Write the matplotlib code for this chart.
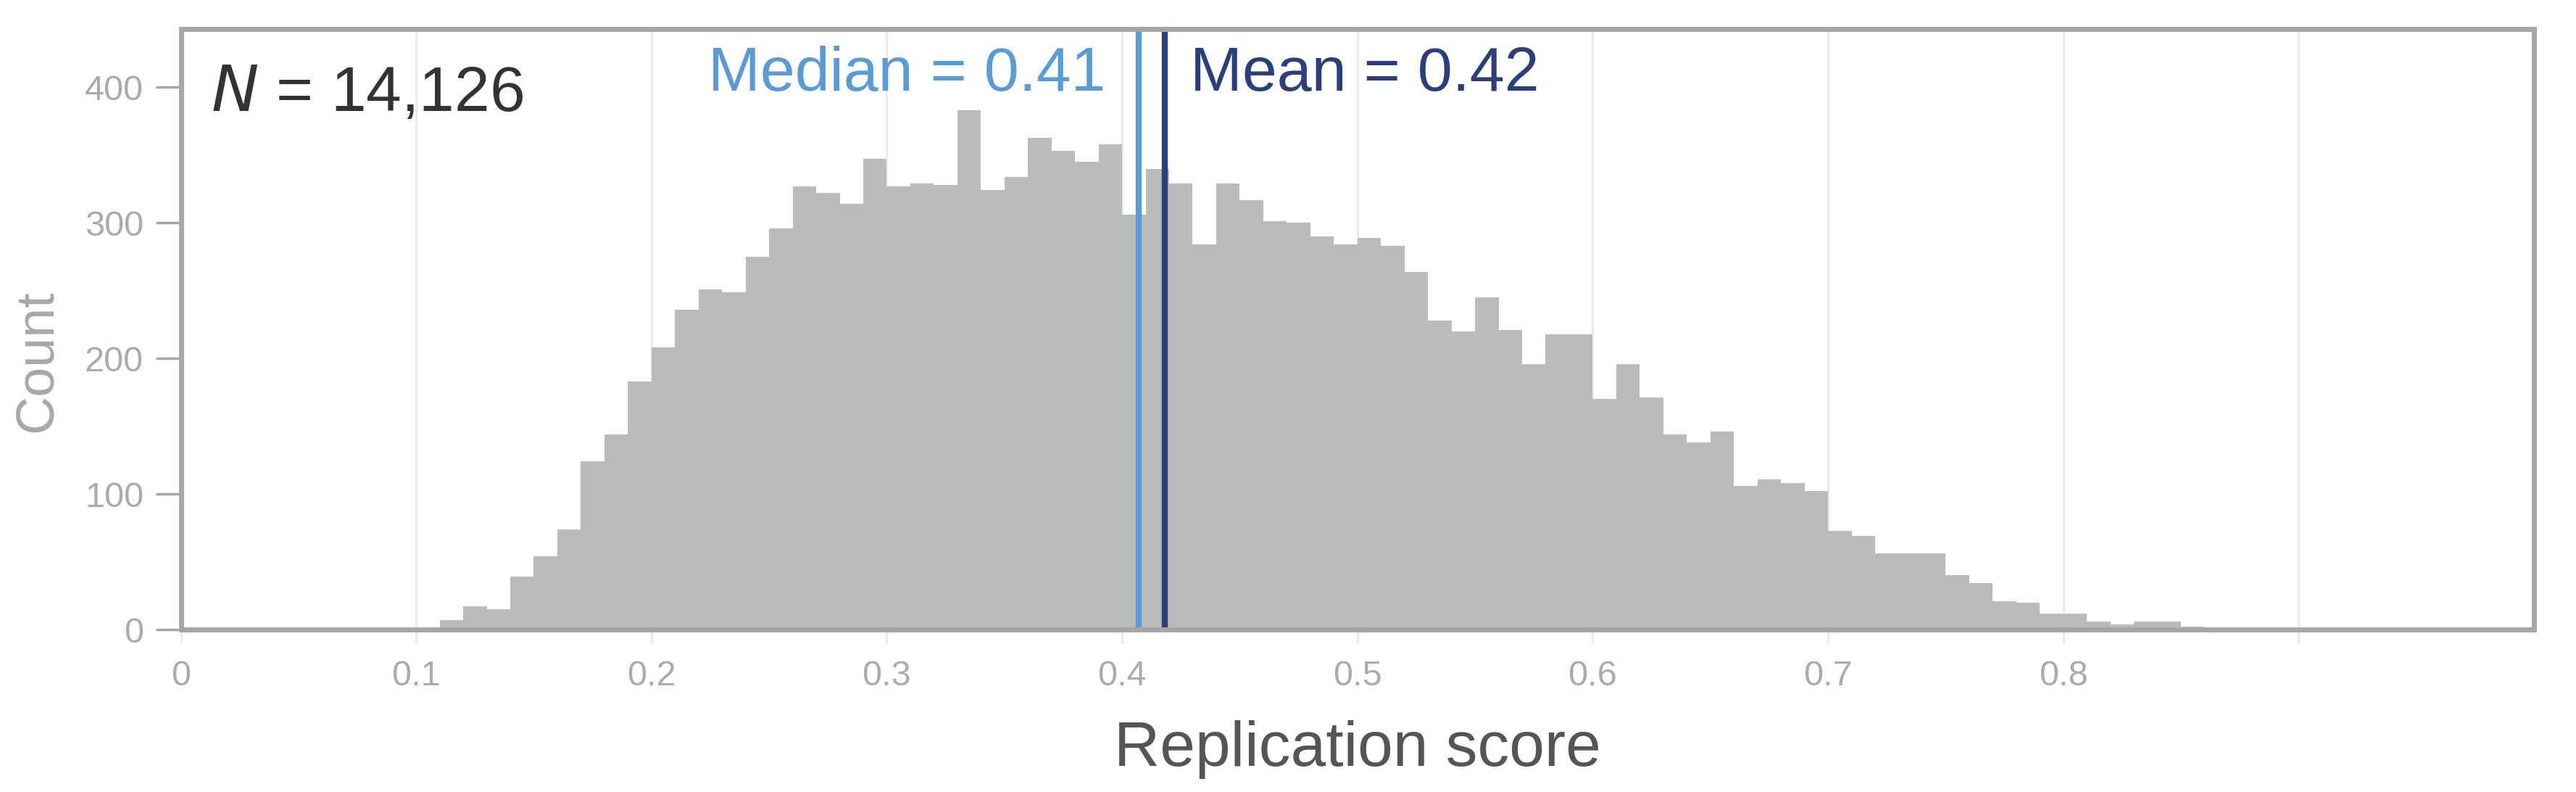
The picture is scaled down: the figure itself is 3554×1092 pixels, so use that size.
import numpy as np
import matplotlib
matplotlib.use("Agg")
import matplotlib.pyplot as plt

plt.rcParams['font.family'] = ['Liberation Sans', 'DejaVu Sans']

# histogram data, bins of width 0.01 starting at 0.10
bin_left = [0.10, 0.11, 0.12, 0.13, 0.14, 0.15, 0.16, 0.17, 0.18, 0.19,
            0.20, 0.21, 0.22, 0.23, 0.24, 0.25, 0.26, 0.27, 0.28, 0.29,
            0.30, 0.31, 0.32, 0.33, 0.34, 0.35, 0.36, 0.37, 0.38, 0.39,
            0.40, 0.41, 0.42, 0.43, 0.44, 0.45, 0.46, 0.47, 0.48, 0.49,
            0.50, 0.51, 0.52, 0.53, 0.54, 0.55, 0.56, 0.57, 0.58, 0.59,
            0.60, 0.61, 0.62, 0.63, 0.64, 0.65, 0.66, 0.67, 0.68, 0.69,
            0.70, 0.71, 0.72, 0.73, 0.74, 0.75, 0.76, 0.77, 0.78, 0.79,
            0.80, 0.81, 0.82, 0.83, 0.84, 0.85, 0.86]
counts = [1, 7, 17, 15, 39, 54, 74, 124, 144, 183,
          208, 236, 251, 249, 275, 296, 327, 322, 314, 347,
          327, 329, 328, 383, 324, 334, 363, 353, 345, 358,
          306, 340, 329, 284, 329, 317, 301, 300, 290, 284,
          289, 283, 264, 228, 220, 245, 221, 196, 218, 218,
          170, 196, 171, 144, 138, 146, 106, 111, 108, 102,
          73, 69, 56, 56, 56, 40, 34, 21, 20, 12,
          12, 6, 4, 6, 6, 2, 1]
bin_width = 0.01

n_total = 14126
median_val = 0.407
mean_val = 0.418

x_ticks = [0, 0.1, 0.2, 0.3, 0.4, 0.5, 0.6, 0.7, 0.8, 0.9]
x_ticklabels = ['0', '0.1', '0.2', '0.3', '0.4', '0.5', '0.6', '0.7', '0.8', '']
y_ticks = [0, 100, 200, 300, 400]

W, H = 3554, 1092
fig = plt.figure(figsize=(W / 100, H / 100), dpi=100)
ax = fig.add_axes([249.5 / W, 1 - 868 / H, (3496 - 249.5) / W, (868 - 40) / H])

ax.bar(bin_left, counts, width=bin_width, align='edge', color='#bbbbbb',
       linewidth=0, zorder=2)

ax.axvline(median_val, color='#5b9bd5', lw=6, zorder=3)
ax.axvline(mean_val, color='#2c3e7c', lw=6, zorder=3)

ax.set_xlim(0, 1.0)
ax.set_ylim(0, 443)

ax.set_xticks(x_ticks)
ax.set_xticklabels(x_ticklabels)
ax.set_yticks(y_ticks)
ax.grid(axis='x', color='#ebebeb', lw=2.5, zorder=0)
ax.set_axisbelow(True)

ax.tick_params(axis='x', colors='#ebebeb', length=14, width=2.5, pad=16,
               labelsize=35, labelcolor='#ababab')
ax.tick_params(axis='y', colors='#a6a6a6', length=25, width=2.5, pad=12,
               labelsize=35, labelcolor='#ababab')

for sp in ax.spines.values():
    sp.set_color('#a6a6a6')
    sp.set_linewidth(5)
    sp.set_zorder(4)

ax.text(0.0128, 0.8635, r'$\it{N}$' + ' = {:,}'.format(n_total), transform=ax.transAxes,
        fontsize=63, color='#333333', va='baseline', ha='left')
ax.text(median_val - 0.014, 0.897, 'Median = {:.2f}'.format(median_val),
        transform=ax.get_xaxis_transform(), fontsize=62, color='#5b9bd5',
        va='baseline', ha='right')
ax.text(mean_val + 0.011, 0.897, 'Mean = {:.2f}'.format(mean_val),
        transform=ax.get_xaxis_transform(), fontsize=62, color='#2c3e7c',
        va='baseline', ha='left')

fig.text(51 / W, 1 - 498 / H, 'Count', rotation=90, ha='center', va='center',
         fontsize=53, color='#a8a8a8')
fig.text((249.5 + 3496) / 2 / W, 1 - 1034 / H, 'Replication score', ha='center',
         va='center', fontsize=63, color='#555555')

fig.savefig('out.png', dpi=100)
